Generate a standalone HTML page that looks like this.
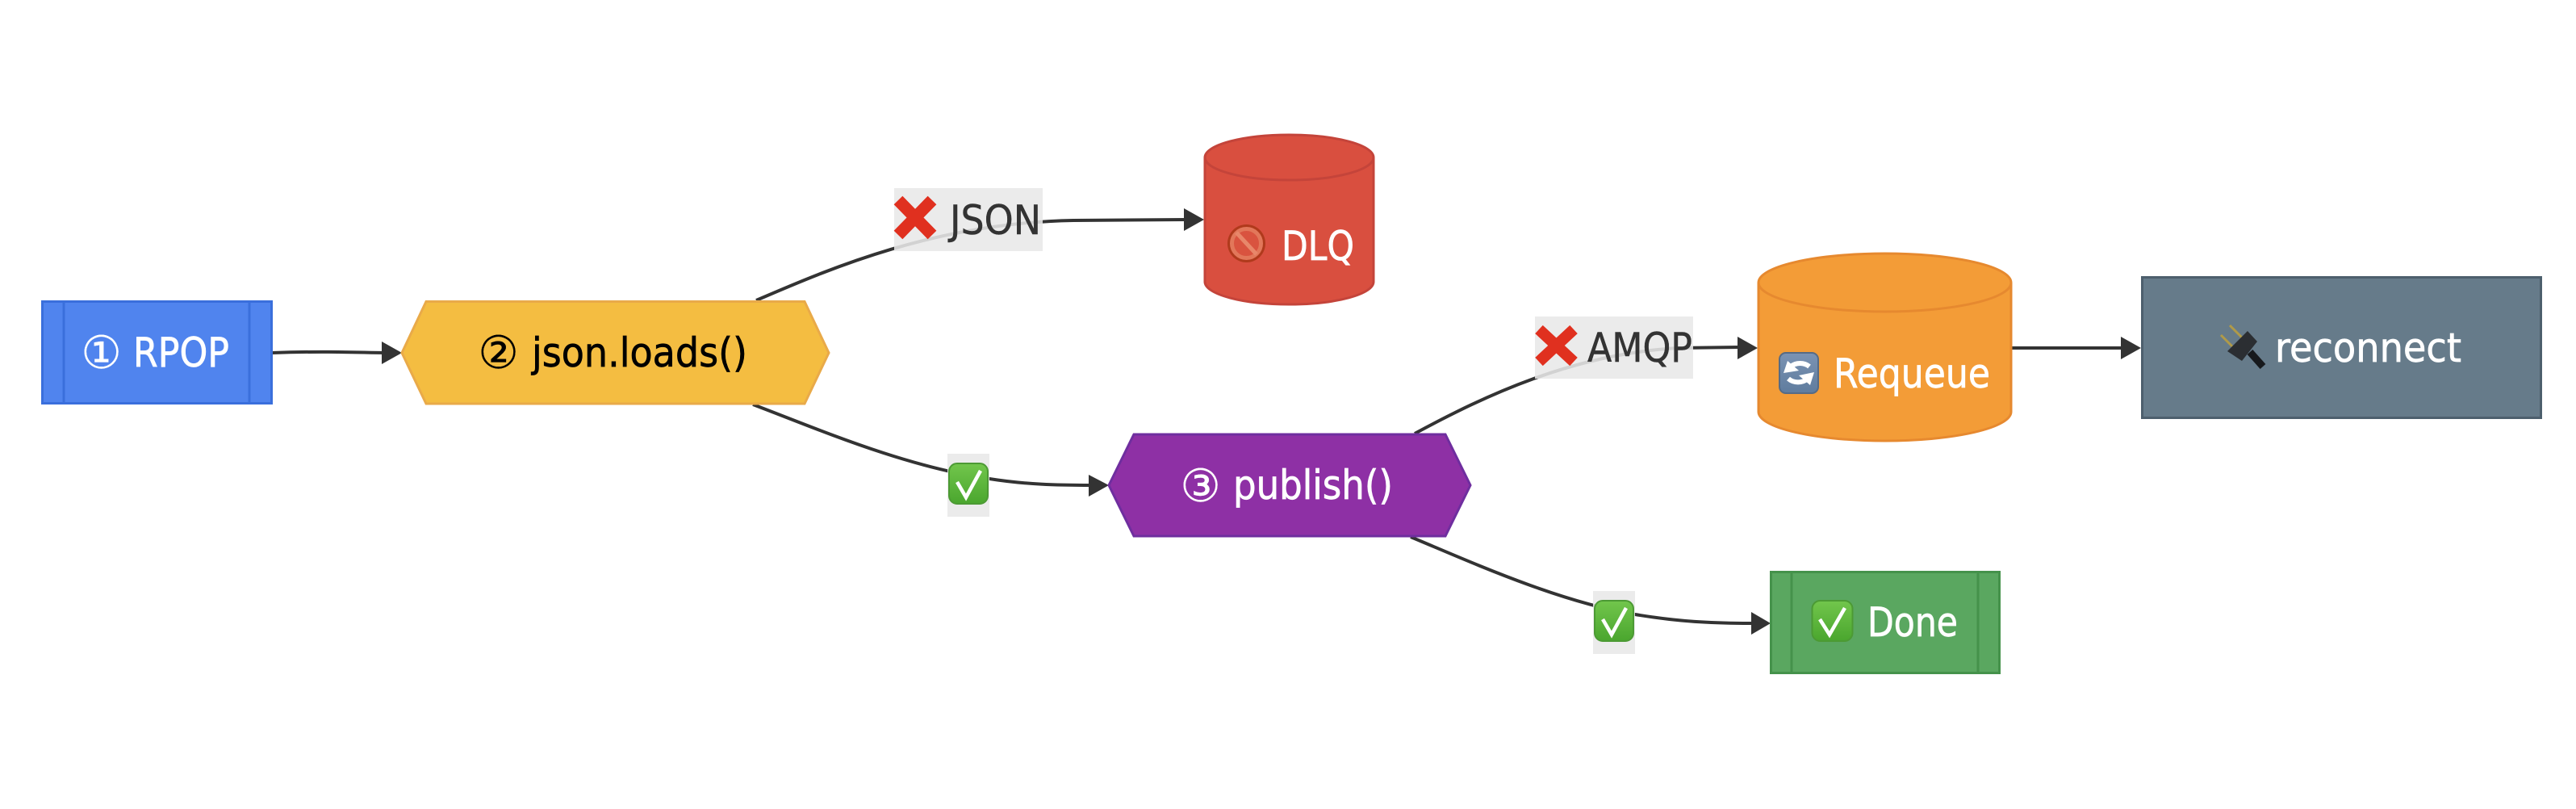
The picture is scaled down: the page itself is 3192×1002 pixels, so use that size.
<!DOCTYPE html>
<html><head><meta charset="utf-8"><style>
html,body{margin:0;padding:0;background:#fff;width:3192px;height:1002px;overflow:hidden}
svg{display:block}
text{font-family:"DejaVu Sans","Liberation Sans",sans-serif;font-size:50px}
text.w{fill:#fff;stroke:#fff;stroke-width:.7}
text.k{fill:#000;stroke:#000;stroke-width:.7}
text.l{fill:#333;stroke:#333;stroke-width:.5}
text.d{font-size:56px;stroke-width:.3}
</style></head><body>
<svg xmlns="http://www.w3.org/2000/svg" width="3192" height="1002" viewBox="0 0 3192 1002">
<rect width="3192" height="1002" fill="#fff"/>
<defs><linearGradient id="g" x1="0" y1="0" x2="0" y2="1"><stop offset="0" stop-color="#72c64c"/><stop offset="1" stop-color="#4aa62e"/></linearGradient>
<linearGradient id="b" x1="0" y1="0" x2="0" y2="1"><stop offset="0" stop-color="#7b93b3"/><stop offset="1" stop-color="#5f7c9e"/></linearGradient></defs>

<!-- edges -->
<g fill="none" stroke="#333" stroke-width="4">
<path d="M337,437 C390,435 430,436 475,437"/>
<path d="M937,372 C1030,332 1160,276 1330,273 L1470,272"/>
<path d="M933,501 C1010,530 1120,578 1226,593 C1270,600 1310,601 1352,601"/>
<path d="M1753,537 C1840,490 1950,438 2080,431 L2156,430"/>
<path d="M1748,665 C1820,695 1930,745 2026,761 C2080,770 2120,772 2173,772"/>
<path d="M2493,431 L2630,431"/>
</g>
<!-- arrowheads -->
<g fill="#333">
<path d="M473,423 L498,437 L473,451Z"/>
<path d="M1467,258 L1492,272 L1467,286Z"/>
<path d="M1349,588 L1374,601 L1349,615Z"/>
<path d="M2153,417 L2178,431 L2153,445Z"/>
<path d="M2628,417 L2653,431 L2628,445Z"/>
<path d="M2170,758 L2194,772 L2170,786Z"/>
</g>
<!-- edge label backgrounds -->
<g fill="#e8e8e8" fill-opacity=".88">
<rect x="1108" y="233" width="184" height="78"/>
<rect x="1174" y="562" width="52" height="78"/>
<rect x="1902" y="392" width="196" height="77"/>
<rect x="1974" y="732" width="52" height="78"/>
</g>
<!-- edge labels -->
<path d="M1113,248 L1155,291 M1155,248 L1113,291" stroke="#e0301f" stroke-width="15" fill="none"/>
<text class="l" x="1177" y="290" textLength="113" lengthAdjust="spacingAndGlyphs">JSON</text>
<path d="M1907,408 L1950,448 M1950,408 L1907,448" stroke="#e0301f" stroke-width="14" fill="none"/>
<text class="l" x="1967" y="448" textLength="130" lengthAdjust="spacingAndGlyphs">AMQP</text>
<g>
<rect x="1176" y="574" width="48" height="50" rx="10" fill="url(#g)" stroke="#4c9a34" stroke-width="2"/>
<path d="M1186,597 L1197,616 L1215,583" fill="none" stroke="#fff" stroke-width="4.5"/>
</g>
<g>
<rect x="1976" y="744" width="48" height="50" rx="10" fill="url(#g)" stroke="#4c9a34" stroke-width="2"/>
<path d="M1986,767 L1997,786 L2015,753" fill="none" stroke="#fff" stroke-width="4.5"/>
</g>

<!-- node 1 -->
<rect x="52.500" y="373.500" width="284" height="126" fill="#5084ee" stroke="#3a6fdc" stroke-width="3"/>
<path d="M79,373 V500 M309,373 V500" stroke="#3a6fdc" stroke-width="3"/>
<text class="w d" x="100.500" y="456">①</text>
<text class="w" x="165" y="454" textLength="119" lengthAdjust="spacingAndGlyphs">RPOP</text>

<!-- node 2 -->
<path d="M498,437 L528,373.500 H997 L1027,437 L997,500 H528Z" fill="#f4bd41" stroke="#e9aa49" stroke-width="3"/>
<text class="k d" x="592.500" y="456">②</text>
<text class="k" x="659" y="454" textLength="267" lengthAdjust="spacingAndGlyphs">json.loads()</text>

<!-- DLQ -->
<path d="M1493,195 V349 A104.500,28 0 0 0 1702,349 V195 A104.500,28 0 0 0 1493,195Z" fill="#d94f3f" stroke="#c4443a" stroke-width="3"/>
<path d="M1493,195 A104.500,28 0 0 0 1702,195" fill="none" stroke="#c4443a" stroke-width="3"/>
<g>
<circle cx="1544.500" cy="301.500" r="23.500" fill="#b03a1c"/>
<circle cx="1544.500" cy="301.500" r="18" fill="#d9533f" stroke="#e2775a" stroke-width="5"/>
<path d="M1532,288 L1557,315" stroke="#e8876a" stroke-width="5"/>
</g>
<text class="w" x="1588" y="322" textLength="90" lengthAdjust="spacingAndGlyphs">DLQ</text>

<!-- node 3 -->
<path d="M1374,601 L1405,538 H1791 L1822,601 L1791,664 H1405Z" fill="#8e30a5" stroke="#6f2e9f" stroke-width="3"/>
<text class="w d" x="1462.500" y="621">③</text>
<text class="w" x="1528" y="618" textLength="198" lengthAdjust="spacingAndGlyphs">publish()</text>

<!-- Requeue -->
<path d="M2179,350 V510 A156.500,36 0 0 0 2492,510 V350 A156.500,36 0 0 0 2179,350Z" fill="#f39c37" stroke="#e6892f" stroke-width="3"/>
<path d="M2179,350 A156.500,36 0 0 0 2492,350" fill="none" stroke="#e6892f" stroke-width="3"/>
<g>
<rect x="2205" y="437" width="48" height="50" rx="8" fill="url(#b)" stroke="#566b85" stroke-width="2"/>
<path d="M2242,454 A17,15 0 0 0 2219,454 M2216,469 A17,15 0 0 0 2240,469" fill="none" stroke="#fff" stroke-width="6"/>
<path d="M2210,462 L2215,447 L2229,459Z M2248,461 L2243,477 L2229,465Z" fill="#fff"/>
</g>
<text class="w" x="2272" y="480" textLength="194" lengthAdjust="spacingAndGlyphs">Requeue</text>

<!-- reconnect -->
<rect x="2654.500" y="343.500" width="494" height="174" fill="#667b8a" stroke="#4d5f6d" stroke-width="3"/>
<g>
<path d="M2763,403 L2778,418 M2752,415 L2766,429" stroke="#b09a48" stroke-width="3"/>
<path d="M2785,410 L2760,435 L2778,447 L2797,423Z" fill="#2b2e32"/>
<path d="M2788,436 L2804,454" stroke="#17191c" stroke-width="9"/>
</g>
<text class="w" x="2819" y="448" textLength="231" lengthAdjust="spacingAndGlyphs">reconnect</text>

<!-- Done -->
<rect x="2194.500" y="708.500" width="283" height="125" fill="#5aa760" stroke="#45924b" stroke-width="3"/>
<path d="M2220,708 V834 M2451,708 V834" stroke="#45924b" stroke-width="3"/>
<g>
<rect x="2245.500" y="744" width="50" height="50" rx="10" fill="url(#g)" stroke="#4c9a34" stroke-width="2"/>
<path d="M2255,767 L2267,786 L2286,753" fill="none" stroke="#fff" stroke-width="4.500"/>
</g>
<text class="w" x="2314" y="788" textLength="112" lengthAdjust="spacingAndGlyphs">Done</text>
</svg>
</body></html>
